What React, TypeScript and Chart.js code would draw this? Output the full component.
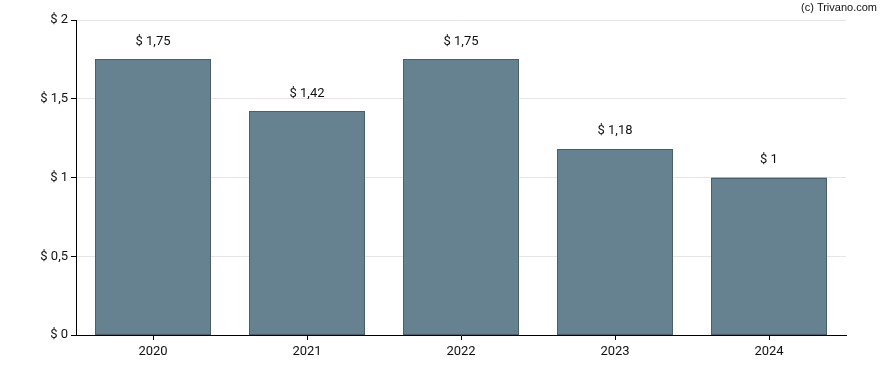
import React, { useEffect, useRef } from "react";
import { Chart, registerables } from "chart.js";

Chart.register(...registerables);

const categories = ["2020", "2021", "2022", "2023", "2024"];
const values = [1.75, 1.42, 1.75, 1.18, 1.0];
const yTicks = [0, 0.5, 1, 1.5, 2];

const fmt = (v: number) => "$ " + String(v).replace(".", ",");

const labelPlugin = {
  id: "labels",
  afterDatasetsDraw(chart: any) {
    const ctx = chart.ctx;
    const meta = chart.getDatasetMeta(0);
    ctx.save();
    // crisp bar outlines
    ctx.strokeStyle = "#45606f";
    ctx.lineWidth = 1;
    meta.data.forEach((bar: any) => {
      const l = Math.round(bar.x - bar.width / 2) + 0.5;
      const r = Math.round(bar.x + bar.width / 2) - 0.5;
      const t = Math.round(bar.y) + 0.5;
      const b = Math.round(bar.base) - 0.5;
      ctx.strokeRect(l, t, r - l, b - t);
    });
    ctx.font = "13px Roboto";
    ctx.fillStyle = "#111";
    ctx.textAlign = "center";
    ctx.textBaseline = "middle";
    meta.data.forEach((bar: any, i: number) => {
      ctx.fillText(fmt(values[i]), bar.x, bar.y - 18);
    });
    ctx.font = "11px 'Liberation Sans', Arial";
    ctx.textAlign = "right";
    ctx.fillStyle = "#111";
    ctx.fillText("(c) Trivano.com", 877, 8);
    ctx.restore();
  },
};

export default function App() {
  const ref = useRef<HTMLCanvasElement>(null);
  useEffect(() => {
    const chart = new Chart(ref.current!, {
      type: "bar",
      data: {
        labels: categories,
        datasets: [
          {
            data: values,
            backgroundColor: "#66818f",
            borderWidth: 0,
            barPercentage: 0.75,
            categoryPercentage: 1,
          },
        ],
      },
      options: {
        animation: false,
        responsive: false,
        layout: { padding: { top: 20, right: 42, left: 0, bottom: 0 } },
        plugins: { legend: { display: false }, tooltip: { enabled: false } },
        scales: {
          x: {
            grid: {
              drawOnChartArea: false,
              offset: false,
              tickLength: 5,
              tickColor: "#000",
            },
            border: { color: "#000", width: 1, z: 1 },
            ticks: { color: "#111", font: { family: "Roboto", size: 13 }, padding: 4 },
            afterFit: (s: any) => {
              s.height = 35;
            },
          },
          y: {
            min: 0,
            max: 2,
            afterBuildTicks: (s: any) => {
              s.ticks = yTicks.map((v) => ({ value: v }));
            },
            grid: { color: "#e6e6e6", tickLength: 5, tickColor: "#000" },
            border: { color: "#000", width: 1 },
            ticks: {
              color: "#111",
              font: { family: "Roboto", size: 13 },
              padding: 3,
              callback: (v: any) => fmt(Number(v)),
            },
            afterFit: (s: any) => {
              s.width = 76;
            },
          },
        },
      },
      plugins: [labelPlugin],
    });
    return () => chart.destroy();
  }, []);
  return (
    <div style={{ position: "absolute", left: 0, top: 0, width: 888, height: 370, background: "#fff" }}>
      <canvas ref={ref} width={888} height={370} />
    </div>
  );
}
